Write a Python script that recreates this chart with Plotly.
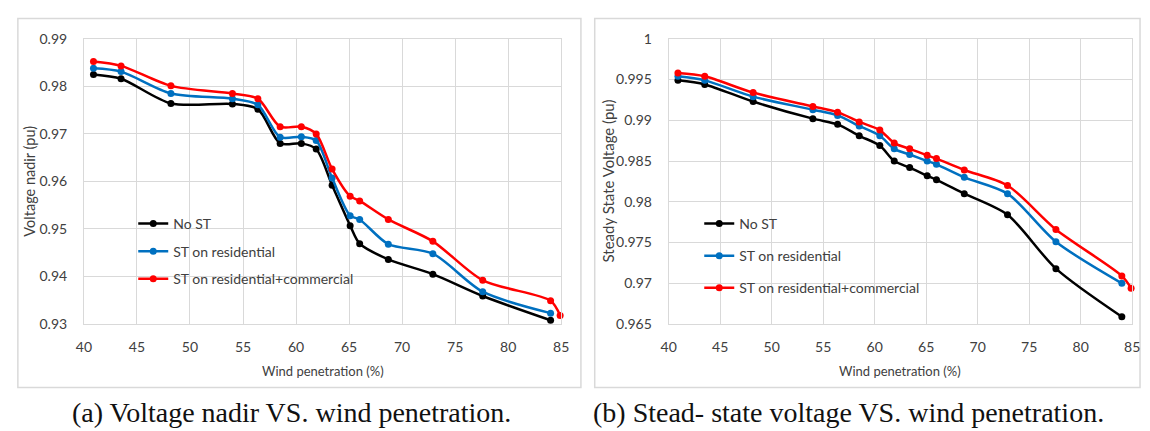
import plotly.graph_objects as go

# ---------------- data ----------------
wind_pen = [40.9, 43.5, 48.2, 54.0, 56.4, 58.5, 60.5, 61.9, 63.4, 65.1, 66.0, 68.7, 72.9, 77.6, 84.0]
wind_pen_rc = [40.9, 43.5, 48.2, 54.0, 56.4, 58.5, 60.5, 61.9, 63.4, 65.1, 66.0, 68.7, 72.9, 77.6, 84.0, 84.9]

nadir_no_st = [0.9825, 0.9816, 0.9764, 0.9763, 0.9752, 0.9680, 0.9680, 0.9668, 0.9592,
               0.9507, 0.9469, 0.9436, 0.9405, 0.9359, 0.9308]
nadir_res = [0.9838, 0.9831, 0.9785, 0.9774, 0.9761, 0.9693, 0.9694, 0.9686, 0.9607,
             0.9528, 0.9520, 0.9468, 0.9448, 0.9368, 0.9323]
nadir_res_com = [0.9852, 0.9843, 0.9801, 0.9785, 0.9774, 0.9715, 0.9715, 0.9700, 0.9626,
                 0.9569, 0.9559, 0.9520, 0.9474, 0.9392, 0.9349, 0.9318]

ss_no_st = [0.9949, 0.9944, 0.9923, 0.9902, 0.9895, 0.9881, 0.9869, 0.9850, 0.9842,
            0.9832, 0.9827, 0.9810, 0.9784, 0.9718, 0.9659]
ss_res = [0.9954, 0.9949, 0.9929, 0.9913, 0.9906, 0.9893, 0.9881, 0.9865, 0.9858,
          0.9850, 0.9846, 0.9830, 0.9810, 0.9751, 0.9700]
ss_res_com = [0.9958, 0.9954, 0.9934, 0.9917, 0.9910, 0.9898, 0.9888, 0.9872, 0.9865,
              0.9857, 0.9853, 0.9839, 0.9820, 0.9766, 0.9709, 0.9694]

series_names = ["No ST", "ST on residential", "ST on residential+commercial"]
x_ticks = [40, 45, 50, 55, 60, 65, 70, 75, 80, 85]
nadir_ticks = [0.93, 0.94, 0.95, 0.96, 0.97, 0.98, 0.99]
nadir_ticktext = ["0.93", "0.94", "0.95", "0.96", "0.97", "0.98", "0.99"]
ss_ticks = [0.965, 0.97, 0.975, 0.98, 0.985, 0.99, 0.995, 1.0]
ss_ticktext = ["0.965", "0.97", "0.975", "0.98", "0.985", "0.99", "0.995", "1"]

x_title = "Wind penetration (%)"
y_title_a = "Voltage nadir (pu)"
y_title_b = "Steady State Voltage (pu)"
caption_a = "(a) Voltage nadir VS. wind penetration."
caption_b = "(b) Stead- state voltage VS. wind penetration."

# ---------------- style ----------------
W, H = 1150, 431
colors = ["#000000", "#0070C0", "#FF0000"]
grid = "#D9D9D9"
FONT = "Lato"
TXT = "#404040"

def px_x(p):
    return p / W

def px_y(p):
    return 1 - p / H

fig = go.Figure()

left_sets = [(wind_pen, nadir_no_st), (wind_pen, nadir_res), (wind_pen_rc, nadir_res_com)]
right_sets = [(wind_pen, ss_no_st), (wind_pen, ss_res), (wind_pen_rc, ss_res_com)]

for i, (xs, ys) in enumerate(left_sets):
    fig.add_trace(go.Scatter(
        x=xs, y=ys, mode="lines+markers", name=series_names[i],
        line=dict(color=colors[i], width=2.5, shape="spline", smoothing=0.8),
        marker=dict(color=colors[i], size=7), cliponaxis=False,
        xaxis="x", yaxis="y", legend="legend", legendgroup="a%d" % i,
    ))
for i, (xs, ys) in enumerate(right_sets):
    fig.add_trace(go.Scatter(
        x=xs, y=ys, mode="lines+markers", name=series_names[i],
        line=dict(color=colors[i], width=2.5, shape="spline", smoothing=0.8),
        marker=dict(color=colors[i], size=7), cliponaxis=False,
        xaxis="x2", yaxis="y2", legend="legend2", legendgroup="b%d" % i,
    ))

axis_common = dict(
    showgrid=True, gridcolor=grid, gridwidth=1,
    showline=True, linecolor=grid, linewidth=1, mirror=True,
    zeroline=False, ticks="", ticklabeloverflow="allow",
    tickfont=dict(family=FONT, size=14, color=TXT),
)

ydom = [px_y(328), px_y(31)]
fig.update_layout(
    width=W, height=H,
    margin=dict(l=0, r=0, t=0, b=0),
    paper_bgcolor="white", plot_bgcolor="white",
    font=dict(family=FONT, color=TXT),
    xaxis=dict(domain=[px_x(77), px_x(561)], range=[40, 85], tickvals=x_ticks,
               ticklabelstandoff=10, anchor="y", **axis_common),
    yaxis=dict(domain=ydom, range=[0.93, 0.99], tickvals=nadir_ticks, ticktext=nadir_ticktext,
               ticklabelstandoff=13, anchor="x", **axis_common),
    xaxis2=dict(domain=[px_x(670), px_x(1140)], range=[40, 85], tickvals=x_ticks,
                ticklabelstandoff=10, anchor="y2", **axis_common),
    yaxis2=dict(domain=ydom, range=[0.965, 1.0], tickvals=ss_ticks, ticktext=ss_ticktext,
                ticklabelstandoff=13, anchor="x2", **axis_common),
    legend=dict(x=px_x(127), y=px_y(207), xanchor="left", yanchor="top",
                bgcolor="rgba(0,0,0,0)", tracegroupgap=6.5,
                font=dict(family=FONT, size=14, color=TXT)),
    legend2=dict(x=px_x(701), y=px_y(207), xanchor="left", yanchor="top",
                 bgcolor="rgba(0,0,0,0)", tracegroupgap=11,
                 font=dict(family=FONT, size=14, color=TXT)),
    showlegend=True,
)

# panel frames
fig.add_shape(type="rect", xref="paper", yref="paper",
              x0=px_x(10), x1=px_x(581), y0=px_y(394), y1=px_y(10),
              line=dict(color=grid, width=1.5), layer="below")
fig.add_shape(type="rect", xref="paper", yref="paper",
              x0=px_x(595), x1=px_x(1148), y0=px_y(394), y1=px_y(10),
              line=dict(color=grid, width=1.5), layer="below")

ann = []
ann.append(dict(text=y_title_a, x=px_x(22), y=px_y(179), textangle=-90,
                font=dict(family=FONT, size=14.5, color=TXT)))
ann.append(dict(text=y_title_b, x=px_x(608), y=px_y(179), textangle=-90,
                font=dict(family=FONT, size=15, color=TXT)))
ann.append(dict(text=x_title, x=px_x(319), y=px_y(377),
                font=dict(family=FONT, size=13, color=TXT)))
ann.append(dict(text=x_title, x=px_x(905), y=px_y(377),
                font=dict(family=FONT, size=13, color=TXT)))
ann.append(dict(text=caption_a, x=px_x(288), y=px_y(420),
                font=dict(family="Liberation Serif", size=28, color="#111111")))
ann.append(dict(text=caption_b, x=px_x(852), y=px_y(420),
                font=dict(family="Liberation Serif", size=28, color="#111111")))
for a in ann:
    a.update(xref="paper", yref="paper", showarrow=False, xanchor="center", yanchor="middle")
fig.update_layout(annotations=ann)

fig.write_html("out.html", config={"displayModeBar": False},
               post_script="document.body.style.margin='0';document.documentElement.style.overflow='hidden';")
